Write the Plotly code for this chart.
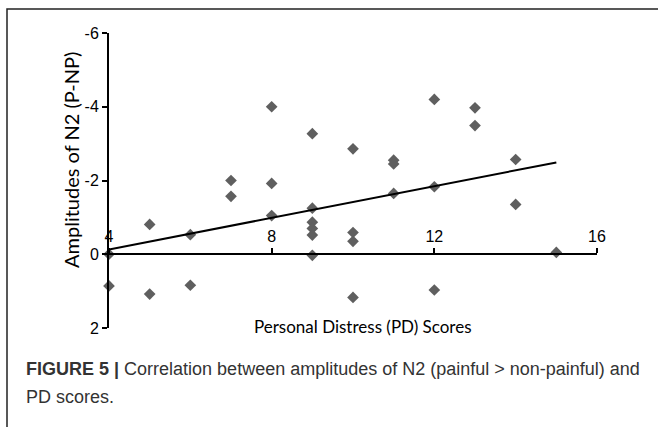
import plotly.graph_objects as go

# Data
pd_scores = [4, 4, 5, 5, 6, 6, 7, 7, 8, 8, 8,
             9, 9, 9, 9, 9, 9, 10, 10, 10, 10,
             11, 11, 11, 12, 12, 12, 13, 13, 14, 14, 15]
n2_amp = [0.0, 0.86, -0.81, 1.08, -0.53, 0.84, -2.0, -1.57, -4.0, -1.92, -1.05,
          -3.27, -1.25, -0.87, -0.70, -0.52, 0.03, -2.86, -0.59, -0.35, 1.17,
          -2.55, -2.45, -1.65, -4.2, -1.83, 0.97, -3.97, -3.49, -2.57, -1.35, -0.05]
trend_x = [4, 15]
trend_y = [-0.13, -2.49]
x_ticks = [4, 8, 12, 16]
x_ticktext = ["4", "8", "12", "16"]
y_ticks = [-6, -4, -2, 0, 2]
y_ticktext = ["-6", "-4", "-2", "0", "2"]

fig = go.Figure()
fig.add_trace(go.Scatter(
    x=pd_scores, y=n2_amp, mode="markers",
    marker=dict(symbol="diamond", size=9, color="#5f5f5f"),
    cliponaxis=False, showlegend=False))
fig.add_trace(go.Scatter(
    x=trend_x, y=trend_y, mode="lines",
    line=dict(color="black", width=2), cliponaxis=False, showlegend=False))

# plot area pixels: x 109..597, y 33..328
L, R, T, B = 109, 61, 33, 99
W, H = 658, 427
pw, ph = W - L - R, H - T - B

def px(xp):
    return (xp - L) / pw

def py(yp):
    return (H - B - yp) / ph

fig.update_layout(
    width=W, height=H,
    margin=dict(l=L, r=R, t=T, b=B),
    paper_bgcolor="white", plot_bgcolor="white",
    font=dict(family="Liberation Sans", size=16, color="black"),
    xaxis=dict(range=[4, 16], tickvals=x_ticks, ticktext=x_ticktext,
               side="top", anchor="free", position=0.25,
               showline=True, linecolor="black", linewidth=2,
               ticks="outside", ticklen=5, tickwidth=2, tickcolor="black",
               showgrid=False, zeroline=False,
               tickfont=dict(family="Liberation Sans", size=16)),
    yaxis=dict(range=[2, -6], tickvals=y_ticks, ticktext=y_ticktext,
               showline=True, linecolor="black", linewidth=2,
               ticks="outside", ticklen=5, tickwidth=2, tickcolor="black",
               showgrid=False, zeroline=False,
               tickfont=dict(family="Liberation Sans", size=16)),
    shapes=[dict(type="rect", xref="paper", yref="paper",
                 x0=px(7), x1=px(700), y0=py(480), y1=py(9),
                 line=dict(color="#222222", width=1.5), fillcolor="rgba(0,0,0,0)",
                 layer="below")],
    annotations=[
        dict(text="Amplitudes of N2 (P-NP)", textangle=-90,
             xref="paper", yref="paper", x=px(71), y=py(160),
             xanchor="center", yanchor="middle", showarrow=False,
             font=dict(family="Lato", size=20, color="black")),
        dict(text="Personal Distress (PD) Scores",
             xref="paper", yref="paper", x=px(363), y=py(326),
             xanchor="center", yanchor="middle", showarrow=False,
             font=dict(family="Lato", size=17, color="black")),
        dict(text="<b>FIGURE 5 |</b> Correlation between amplitudes of N2 (painful &gt; non-painful) and",
             xref="paper", yref="paper", x=px(24), y=py(369),
             xanchor="left", yanchor="middle", showarrow=False,
             font=dict(family="Liberation Sans", size=18, color="#333333")),
        dict(text="PD scores.",
             xref="paper", yref="paper", x=px(24), y=py(397),
             xanchor="left", yanchor="middle", showarrow=False,
             font=dict(family="Liberation Sans", size=18, color="#333333")),
    ],
)

fig.write_html("out.html")
